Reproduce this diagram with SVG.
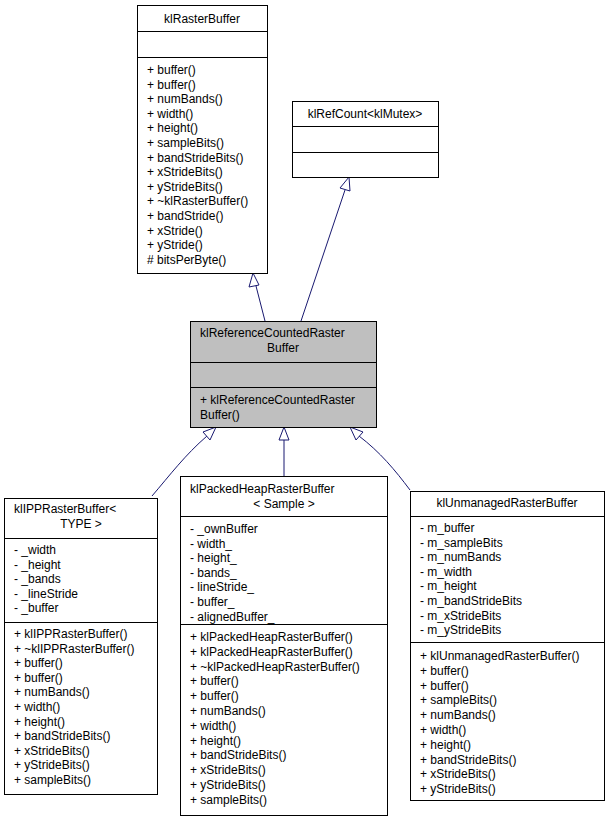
<svg xmlns="http://www.w3.org/2000/svg" width="608" height="823" viewBox="0 0 608 823">
<style>
text{font-family:"Liberation Sans",Arial,sans-serif;font-size:12px;fill:#000}
.c{text-anchor:middle}
.b{fill:#fff;stroke:#000;stroke-width:1}
.g{fill:#bfbfbf;stroke:#000;stroke-width:1}
.l{stroke:#000;stroke-width:1}
.e{fill:none;stroke:#191970;stroke-width:1}
.h{fill:#fff;stroke:#191970;stroke-width:1}
</style>
<rect width="608" height="823" fill="#fff"/>
<g id="connectors">
<path class="e" d="M265,321 L256,286"/><polygon class="h" points="253,273 249,287 259,285"/>
<path class="e" d="M301,321 L345,190"/><polygon class="h" points="349,177 340,188 350,191"/>
<path class="e" d="M152,496 C170,475 185,455 207,436"/><polygon class="h" points="216,427 203,432 210,440"/>
<path class="e" d="M284,476 L284,440"/><polygon class="h" points="284,427 279,440 289,440"/>
<path class="e" d="M410,490 C395,470 380,452 359,436"/><polygon class="h" points="350,427 356,440 363,432"/>
</g>
<g id="kIRasterBuffer">
<rect class="b" x="137.5" y="5.5" width="130" height="268"/>
<line class="l" x1="137" y1="31.5" x2="268" y2="31.5"/><line class="l" x1="137" y1="57.5" x2="268" y2="57.5"/>
<text class="c" x="202" y="23">klRasterBuffer</text>
<g><text x="147" y="74">+ buffer()</text><text x="147" y="88.6">+ buffer()</text><text x="147" y="103.2">+ numBands()</text><text x="147" y="117.8">+ width()</text><text x="147" y="132.4">+ height()</text><text x="147" y="147">+ sampleBits()</text><text x="147" y="161.6">+ bandStrideBits()</text><text x="147" y="176.2">+ xStrideBits()</text><text x="147" y="190.8">+ yStrideBits()</text><text x="147" y="205.4">+ ~klRasterBuffer()</text><text x="147" y="220">+ bandStride()</text><text x="147" y="234.6">+ xStride()</text><text x="147" y="249.2">+ yStride()</text><text x="147" y="263.8"># bitsPerByte()</text></g>
</g>
<g id="kIRefCount">
<rect class="b" x="292.5" y="101.5" width="146" height="76"/>
<line class="l" x1="292" y1="126.5" x2="439" y2="126.5"/><line class="l" x1="292" y1="152.5" x2="439" y2="152.5"/>
<text class="c" x="365" y="118">klRefCount&lt;klMutex&gt;</text>
</g>
<g id="kIReferenceCountedRasterBuffer">
<rect class="g" x="190.5" y="321.5" width="186" height="106"/>
<line class="l" x1="190" y1="362.5" x2="377" y2="362.5"/><line class="l" x1="190" y1="387.5" x2="377" y2="387.5"/>
<text x="200" y="337">klReferenceCountedRaster</text><text class="c" x="283" y="352">Buffer</text>
<text x="200" y="404">+ klReferenceCountedRaster</text><text x="200" y="419">Buffer()</text>
</g>
<g id="kIIPPRasterBuffer">
<rect class="b" x="4.5" y="498.5" width="153" height="296"/>
<line class="l" x1="4" y1="538.5" x2="158" y2="538.5"/><line class="l" x1="4" y1="622.5" x2="158" y2="622.5"/>
<text x="14" y="513">klIPPRasterBuffer&lt;</text><text class="c" x="81" y="528">TYPE &gt;</text>
<text x="14" y="554">- _width</text><text x="14" y="568.6">- _height</text><text x="14" y="583.2">- _bands</text><text x="14" y="597.8">- _lineStride</text><text x="14" y="612.4">- _buffer</text>
<text x="14" y="638">+ klIPPRasterBuffer()</text><text x="14" y="652.6">+ ~klIPPRasterBuffer()</text><text x="14" y="667.2">+ buffer()</text><text x="14" y="681.8">+ buffer()</text><text x="14" y="696.4">+ numBands()</text><text x="14" y="711">+ width()</text><text x="14" y="725.6">+ height()</text><text x="14" y="740.2">+ bandStrideBits()</text><text x="14" y="754.8">+ xStrideBits()</text><text x="14" y="769.4">+ yStrideBits()</text><text x="14" y="784">+ sampleBits()</text>
</g>
<g id="kIPackedHeapRasterBuffer">
<rect class="b" x="180.5" y="476.5" width="207" height="339"/>
<line class="l" x1="180" y1="516.5" x2="388" y2="516.5"/><line class="l" x1="180" y1="624.5" x2="388" y2="624.5"/>
<text x="190" y="493">klPackedHeapRasterBuffer</text><text class="c" x="284" y="508">&lt; Sample &gt;</text>
<text x="190" y="533">- _ownBuffer</text><text x="190" y="547.6">- width_</text><text x="190" y="562.2">- height_</text><text x="190" y="576.8">- bands_</text><text x="190" y="591.4">- lineStride_</text><text x="190" y="606">- buffer_</text><text x="190" y="620.6">- alignedBuffer_</text>
<text x="190" y="641">+ klPackedHeapRasterBuffer()</text><text x="190" y="655.8">+ klPackedHeapRasterBuffer()</text><text x="190" y="670.6">+ ~klPackedHeapRasterBuffer()</text><text x="190" y="685.4">+ buffer()</text><text x="190" y="700.2">+ buffer()</text><text x="190" y="715">+ numBands()</text><text x="190" y="729.8">+ width()</text><text x="190" y="744.6">+ height()</text><text x="190" y="759.4">+ bandStrideBits()</text><text x="190" y="774.2">+ xStrideBits()</text><text x="190" y="789">+ yStrideBits()</text><text x="190" y="803.8">+ sampleBits()</text>
</g>
<g id="kIUnmanagedRasterBuffer">
<rect class="b" x="410.5" y="491.5" width="194" height="309"/>
<line class="l" x1="410" y1="516.5" x2="605" y2="516.5"/><line class="l" x1="410" y1="642.5" x2="605" y2="642.5"/>
<text class="c" x="507" y="507">klUnmanagedRasterBuffer</text>
<text x="420" y="532">- m_buffer</text><text x="420" y="546.6">- m_sampleBits</text><text x="420" y="561.2">- m_numBands</text><text x="420" y="575.8">- m_width</text><text x="420" y="590.4">- m_height</text><text x="420" y="605">- m_bandStrideBits</text><text x="420" y="619.6">- m_xStrideBits</text><text x="420" y="634.2">- m_yStrideBits</text>
<text x="420" y="660">+ klUnmanagedRasterBuffer()</text><text x="420" y="674.8">+ buffer()</text><text x="420" y="689.6">+ buffer()</text><text x="420" y="704.4">+ sampleBits()</text><text x="420" y="719.2">+ numBands()</text><text x="420" y="734">+ width()</text><text x="420" y="748.8">+ height()</text><text x="420" y="763.6">+ bandStrideBits()</text><text x="420" y="778.4">+ xStrideBits()</text><text x="420" y="793.2">+ yStrideBits()</text>
</g>
</svg>
